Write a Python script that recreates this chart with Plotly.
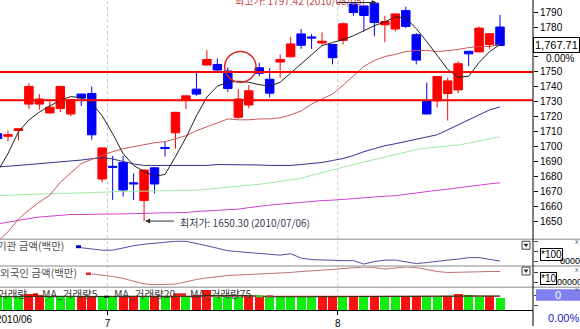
import plotly.graph_objects as go

W, H = 580, 329

dates = ["06/16","06/17","06/18","06/21","06/22","06/23","06/24","06/25","06/28","06/29","06/30",
         "07/01","07/02","07/05","07/06","07/07","07/08","07/09","07/12","07/13","07/14","07/15",
         "07/16","07/19","07/20","07/21","07/22","07/23","07/26","07/27","07/28","07/29","07/30",
         "08/02","08/03","08/04","08/05","08/06","08/09","08/10","08/11","08/12","08/13","08/16",
         "08/17","08/18","08/19","08/20","08/23"]
idx = list(range(len(dates)))

open_ = [1708.7,1707.0,1710.9,1728.5,1728.5,1722.6,1725.5,1721.9,1735.2,1735.6,1678.4,
         1686.9,1689.5,1675.9,1664.1,1685.9,1699.5,1709.3,1731.4,1738.5,1754.6,1755.0,
         1750.6,1719.7,1727.9,1752.8,1745.1,1756.6,1760.1,1775.4,1773.4,1769.4,1768.3,
         1771.1,1795.4,1794.1,1795.9,1781.5,1778.7,1791.0,1774.9,1730.7,1730.7,1735.6,
         1738.0,1763.8,1763.4,1768.3,1780.0]
high = [1710.0,1710.9,1712.2,1742.4,1735.2,1731.9,1740.8,1731.8,1735.5,1740.3,1699.5,
        1693.9,1693.9,1682.2,1684.8,1686.2,1703.4,1723.3,1734.3,1750.6,1764.5,1759.0,
        1753.0,1738.5,1741.1,1756.1,1752.4,1761.7,1773.4,1778.7,1775.4,1776.4,1768.5,
        1783.0,1795.6,1794.3,1797.42,1787.5,1789.0,1793.6,1776.0,1742.9,1747.2,1746.2,
        1757.2,1764.0,1780.4,1775.8,1788.1]
low = [1704.7,1703.6,1704.2,1725.2,1724.8,1722.0,1723.2,1720.4,1727.2,1704.7,1676.2,
       1664.5,1666.7,1664.5,1650.30,1668.9,1693.4,1698.7,1725.2,1734.0,1754.4,1749.7,
       1736.7,1718.6,1725.7,1747.3,1733.0,1746.2,1759.8,1765.4,1765.4,1767.6,1755.0,
       1768.3,1787.5,1777.1,1773.8,1769.8,1777.1,1779.3,1755.0,1721.7,1726.3,1717.5,
       1735.8,1753.9,1763.2,1765.4,1767.5]
close = [1705.4,1708.0,1712.0,1740.3,1731.9,1726.4,1740.3,1731.4,1732.5,1708.0,1699.2,
         1686.3,1671.1,1675.2,1684.4,1675.1,1698.9,1723.0,1734.0,1735.2,1758.3,1751.3,
         1738.9,1731.9,1737.4,1749.1,1735.8,1758.3,1768.7,1767.8,1772.7,1770.5,1759.5,
         1782.2,1789.7,1787.7,1783.0,1783.7,1788.8,1780.4,1757.9,1721.9,1746.9,1744.0,
         1755.5,1762.1,1779.3,1775.6,1767.71]

ma5 = [1683.5,1695.4,1710.0,1717.9,1723.2,1727.2,1731.2,1733.5,1732.8,1729.2,1720.6,
       1708.7,1695.4,1687.5,1683.5,1680.2,1681.5,1693.4,1706.0,1720.6,1733.2,1740.5,
       1743.1,1743.8,1743.1,1741.5,1740.5,1743.1,1749.1,1755.0,1761.0,1767.6,1769.6,
       1771.6,1774.2,1777.5,1780.9,1783.5,1786.8,1786.2,1778.9,1770.3,1761.0,1751.7,
       1746.4,1747.1,1756.3,1763.6,1768.3]
ma20 = [1636.5,1643.1,1651.7,1657.7,1663.0,1667.6,1676.2,1682.8,1688.8,1691.5,1694.1,
        1696.7,1698.7,1700.0,1701.4,1702.7,1703.4,1705.4,1707.3,1710.7,1713.3,1716.0,
        1718.6,1718.0,1718.0,1718.6,1718.6,1719.3,1721.3,1723.9,1728.5,1731.9,1735.2,
        1741.1,1747.7,1753.7,1757.7,1760.3,1761.7,1763.6,1764.3,1764.3,1763.6,1764.3,
        1765.0,1766.3,1767.0,1767.0,1768.3]
ma60 = [1686.5,1686.8,1687.5,1688.1,1688.8,1689.1,1689.8,1690.5,1691.1,1692.1,1692.8,
        1691.8,1690.1,1688.5,1687.5,1687.5,1687.5,1687.5,1687.5,1687.5,1687.5,1688.1,
        1688.1,1688.1,1688.1,1687.8,1687.5,1687.5,1687.5,1688.1,1688.8,1689.5,1690.8,
        1692.1,1694.1,1696.7,1698.7,1700.7,1702.0,1703.4,1704.7,1706.4,1708.0,1711.3,
        1714.6,1718.0,1721.3,1724.6,1726.6]
ma120 = [1667.3,1667.6,1667.9,1668.3,1668.3,1668.6,1668.9,1668.9,1669.3,1669.6,1669.6,
         1669.9,1670.3,1670.3,1670.3,1670.6,1670.9,1670.9,1670.9,1670.9,1671.6,1672.2,
         1672.9,1673.6,1674.2,1674.9,1675.9,1676.9,1677.9,1678.9,1680.9,1682.5,1684.5,
         1686.2,1688.1,1689.8,1691.5,1692.8,1694.8,1696.4,1698.1,1699.1,1699.8,1700.4,
         1701.1,1702.4,1704.0,1705.4,1706.7]
ma240 = [1648.4,1649.7,1651.0,1652.0,1653.0,1653.7,1654.4,1654.7,1654.7,1655.0,1655.0,
         1655.0,1655.0,1655.0,1655.4,1655.7,1655.7,1655.7,1656.0,1656.7,1657.0,1657.3,
         1657.7,1658.3,1659.3,1660.3,1661.0,1661.6,1662.3,1663.0,1663.6,1664.0,1664.3,
         1664.6,1665.3,1665.9,1666.6,1666.9,1667.3,1668.3,1669.3,1670.3,1670.9,1671.6,
         1672.6,1673.6,1674.6,1675.2,1675.9]

support_levels = [1750, 1731]

# 기관 금액 (relative units), from candle 8 onward
inst_start = 8
inst = [18.5,17.5,16.0,16.0,18.5,20.5,22.0,23.0,24.0,25.0,25.0,23.0,20.5,18.0,15.5,
        14.5,13.5,13.0,12.0,11.0,12.5,8.0,6.5,6.0,6.0,5.5,5.5,2.0,4.5,6.0,6.0,4.5,
        2.5,3.5,5.0,6.0,7.0,8.5,8.5,7.0,5.0]
# 외국인 금액 (relative units), from candle 9 onward
frgn_start = 9
frgn = [13.5,12.5,11.0,9.0,6.0,3.5,2.7,2.7,3.3,5.5,8.0,9.5,11.0,12.0,12.5,13.0,13.3,
        13.5,14.0,15.0,16.0,16.5,17.3,18.0,19.0,20.0,20.5,20.0,18.5,19.5,20.5,20.0,
        18.0,16.0,15.0,15.0,15.5,15.7,16.0,16.0]

volume = [130,135,130,160,150,130,130,130,140,145,135,135,140,140,130,145,130,145,130,150,
          200,135,135,130,140,140,130,130,135,135,130,140,140,135,140,135,140,135,130,140,
          140,130,130,140,165,150,135,140,120]
vol_up = [0,0,0,1,1,0,0,0,1,1,0,0,1,1,0,1,0,1,0,1,1,0,0,0,1,1,0,0,0,0,0,1,1,0,1,0,1,0,0,1,
          1,0,0,1,1,0,0,1,0]
vol_ma5 = [136,137,138,140,142,141,140,139,137,135,136,138,139,138,137,137,137,137,137,139,
           148,150,149,148,147,138,136,135,134,134,134,135,135,136,137,137,138,137,136,137,
           137,136,134,135,141,143,143,144,142]
vol_ma20 = [139,139,139,139,139,139,139,139,139,139,139,139,139,139,139,139,139,139,139,139,
            141,141,141,141,141,141,141,140,140,140,140,140,140,140,140,140,140,139,139,139,
            139,139,139,140,141,141,141,141,141]

# ---------------------------------------------------------------------------
def PX(x):
    return x / W


def PY(y):
    return 1 - y / H

x_left, x_right = 0.239, 51.15
plot_right = 533

fig = go.Figure()

fig.add_trace(go.Candlestick(
    x=idx, open=open_, high=high, low=low, close=close,
    increasing=dict(line=dict(color="#ff0000", width=1), fillcolor="#ff0000"),
    decreasing=dict(line=dict(color="#0000ff", width=1), fillcolor="#0000ff"),
    whiskerwidth=0, showlegend=False, xaxis="x", yaxis="y"))

for arr, col in [(ma240, "#d040d0"), (ma120, "#a0e8a0"), (ma60, "#30308c"),
                 (ma20, "#c85858"), (ma5, "#202020")]:
    fig.add_trace(go.Scatter(x=idx, y=arr, mode="lines", line=dict(color=col, width=1),
                             showlegend=False, xaxis="x", yaxis="y"))

fig.add_trace(go.Scatter(x=idx[inst_start:inst_start + len(inst)], y=inst, mode="lines",
                         line=dict(color="#5050a0", width=1), showlegend=False,
                         xaxis="x", yaxis="y2"))
fig.add_trace(go.Scatter(x=idx[frgn_start:frgn_start + len(frgn)], y=frgn, mode="lines",
                         line=dict(color="#c07070", width=1), showlegend=False,
                         xaxis="x", yaxis="y3"))

fig.add_trace(go.Bar(x=idx, y=volume,
                     marker=dict(color=["#ff1010" if u else "#10ee10" for u in vol_up],
                                 line=dict(width=0)),
                     width=0.86, showlegend=False, xaxis="x", yaxis="y4"))
fig.add_trace(go.Scatter(x=idx, y=vol_ma20, mode="lines", line=dict(color="#a04040", width=1),
                         showlegend=False, xaxis="x", yaxis="y4"))
fig.add_trace(go.Scatter(x=idx, y=vol_ma5, mode="lines", line=dict(color="#303000", width=1),
                         showlegend=False, xaxis="x", yaxis="y4"))

font = "Liberation Sans, Arial, Noto Sans CJK KR, sans-serif"
kfont = "Noto Sans CJK KR, Liberation Sans, sans-serif"

price_ticks = list(range(1650, 1801, 10))
price_text = ["" if v in (1760, 1770) else str(v) for v in price_ticks]

xdom = [0, plot_right / W]
fig.update_layout(
    width=W, height=H, margin=dict(l=0, r=0, t=0, b=0),
    paper_bgcolor="white", plot_bgcolor="white",
    boxgap=0.1, boxgroupgap=0.1, bargap=0,
    font=dict(family=font, size=10, color="black"),
    xaxis=dict(domain=xdom, range=[x_left, x_right], anchor="y4",
               rangeslider=dict(visible=False), showgrid=False, zeroline=False,
               showline=True, linecolor="black", linewidth=1,
               ticks="outside", ticklen=4, tickcolor="black",
               tickvals=[10.5, 32.5], ticktext=["7", "8"],
               tickfont=dict(size=10, family=font)),
    yaxis=dict(domain=[PY(241.5), 1], range=[1638.13, 1798.08], anchor="x", side="right",
               showgrid=False, zeroline=False, showline=False,
               ticks="outside", ticklen=4, tickcolor="black",
               tickvals=price_ticks, ticktext=price_text,
               tickfont=dict(size=10, family=font)),
    yaxis2=dict(domain=[PY(268.5), PY(242.5)], range=[0, 26], anchor="x", side="right",
                showgrid=False, zeroline=False, showticklabels=False,
                ticks="outside", ticklen=4, tickvals=[5, 15, 25]),
    yaxis3=dict(domain=[PY(290), PY(269.5)], range=[0, 20.5], anchor="x", side="right",
                showgrid=False, zeroline=False, showticklabels=False,
                ticks="outside", ticklen=4, tickvals=[5, 15]),
    yaxis4=dict(domain=[PY(313), PY(290.5)], range=[0, 225], anchor="x", side="right",
                showgrid=False, zeroline=False, showticklabels=False,
                ticks="outside", ticklen=4, tickvals=[50, 150]),
)

shapes = []
for lvl in support_levels:
    shapes.append(dict(type="line", xref="x domain", x0=0, x1=1, yref="y", y0=lvl, y1=lvl,
                       line=dict(color="#ff0000", width=2)))
# month separators
for xv in [10.5, 32.5]:
    shapes.append(dict(type="line", xref="x", x0=xv, x1=xv, yref="paper", y0=PY(313), y1=1,
                       line=dict(color="#c8c8c8", width=1, dash="dot"), layer="below"))
# panel separators
for yy in [241.5, 268.5, 290]:
    shapes.append(dict(type="line", xref="paper", x0=0, x1=1, yref="paper", y0=PY(yy), y1=PY(yy),
                       line=dict(color="#b0b0b0", width=1.5)))
# right axis line
shapes.append(dict(type="line", xref="paper", x0=PX(plot_right), x1=PX(plot_right),
                   yref="paper", y0=0, y1=1, line=dict(color="black", width=1)))
# hand-drawn red circle
shapes.append(dict(type="circle", xref="x", yref="y", x0=21.7, x1=24.7, y0=1743.1, y1=1763.6,
                   line=dict(color="#e02020", width=1.5)))
# legend markers in panels
def marker(x0, x1, y0, y1, col):
    shapes.append(dict(type="rect", xref="paper", yref="paper", x0=PX(x0), x1=PX(x1),
                       y0=PY(y1), y1=PY(y0), fillcolor=col, line=dict(width=0)))
marker(76, 81, 247.5, 250.5, "#0000c0")
marker(86, 91, 275, 277.5, "#e02020")
marker(33, 38, 296, 299, "#c00000")
marker(104, 109, 298.5, 300.5, "#000000")
marker(173, 186, 296, 299, "#e02020")
marker(256, 263, 298, 300, "#30d030")
marker(266, 273, 298, 300, "#a04040")
# icons at right of lower panels
for yy in [247.5, 273.5]:
    shapes.append(dict(type="rect", xref="paper", yref="paper", x0=PX(522), x1=PX(530),
                       y0=PY(yy + 4), y1=PY(yy - 4), fillcolor="white",
                       line=dict(color="#404040", width=1)))
    shapes.append(dict(type="path", xref="paper", yref="paper",
                       path=f"M {PX(523.5)},{PY(yy - 1.5)} L {PX(528.5)},{PY(yy - 1.5)} "
                            f"L {PX(526)},{PY(yy + 2)} Z",
                       fillcolor="#303030", line=dict(width=0)))
# blue value box in volume panel
shapes.append(dict(type="rect", xref="paper", yref="paper", x0=PX(536), x1=1,
                   y0=PY(303.5), y1=PY(292), fillcolor="#8080f0", line=dict(width=0)))
fig.update_layout(shapes=shapes)

ann = []
def text(x, y, s, size=10, color="black", xanchor="left", fam=font, **kw):
    ann.append(dict(xref="paper", yref="paper", x=PX(x), y=PY(y), text=s, showarrow=False,
                    xanchor=xanchor, yanchor="middle", font=dict(size=size, color=color, family=fam),
                    **kw))

text(233, 1, "최고가: 1797.42 (2010/08/05)", size=10, color="#c84848", fam=kfont)
text(178, 225, "최저가: 1650.30 (2010/07/06)", size=10, color="#383850", fam=kfont)
# arrows
ann.append(dict(xref="x", yref="y", x=36.2, y=1796.4, axref="x", ayref="y", ax=32.3, ay=1796.4,
                showarrow=True, arrowhead=2, arrowsize=1, arrowwidth=1, arrowcolor="#303030", text=""))
ann.append(dict(xref="x", yref="y", x=14.1, y=1650.3, axref="x", ayref="y", ax=17.0, ay=1650.3,
                showarrow=True, arrowhead=2, arrowsize=1, arrowwidth=1, arrowcolor="#303030", text=""))
# last price box
text(556, 45, "1,767.71", size=11, xanchor="center", bgcolor="white", bordercolor="black",
     borderwidth=1, borderpad=1)
text(560, 59, "0.00%", size=10, xanchor="center")
# panel labels
text(-5, 248, "기관 금액(백만)", size=10.5, color="#505050", fam=kfont)
text(-2, 275, "외국인 금액(백만)", size=10.5, color="#505050", fam=kfont)
text(-4, 296, "거래량", size=10.5, color="#404040", fam=kfont)
text(40, 296, "MA_거래량5", size=10.5, color="#404040", fam=kfont)
text(112, 296, "MA_거래량20", size=10.5, color="#404040", fam=kfont)
text(188, 296, "MA_거래량75", size=10.5, color="#404040", fam=kfont)
# right side of lower panels
text(540, 257, "*100", size=10, bordercolor="black", borderwidth=1, borderpad=0)
text(558, 263, "0000", size=9)
text(540, 281, "*10", size=10, bordercolor="black", borderwidth=1, borderpad=0)
text(555, 285, "00000", size=9)
text(558, 298, "0", size=11, color="white", xanchor="center")
text(563, 321, "0.00%", size=11, color="#2020c0", xanchor="center")
for yy in [244, 272, 292]:
    text(577, yy, "x", size=7, color="#606060", xanchor="center")
# x-axis first label
text(-6, 322, "2010/06", size=10)
fig.update_layout(annotations=ann)

fig.write_html("out.html")
